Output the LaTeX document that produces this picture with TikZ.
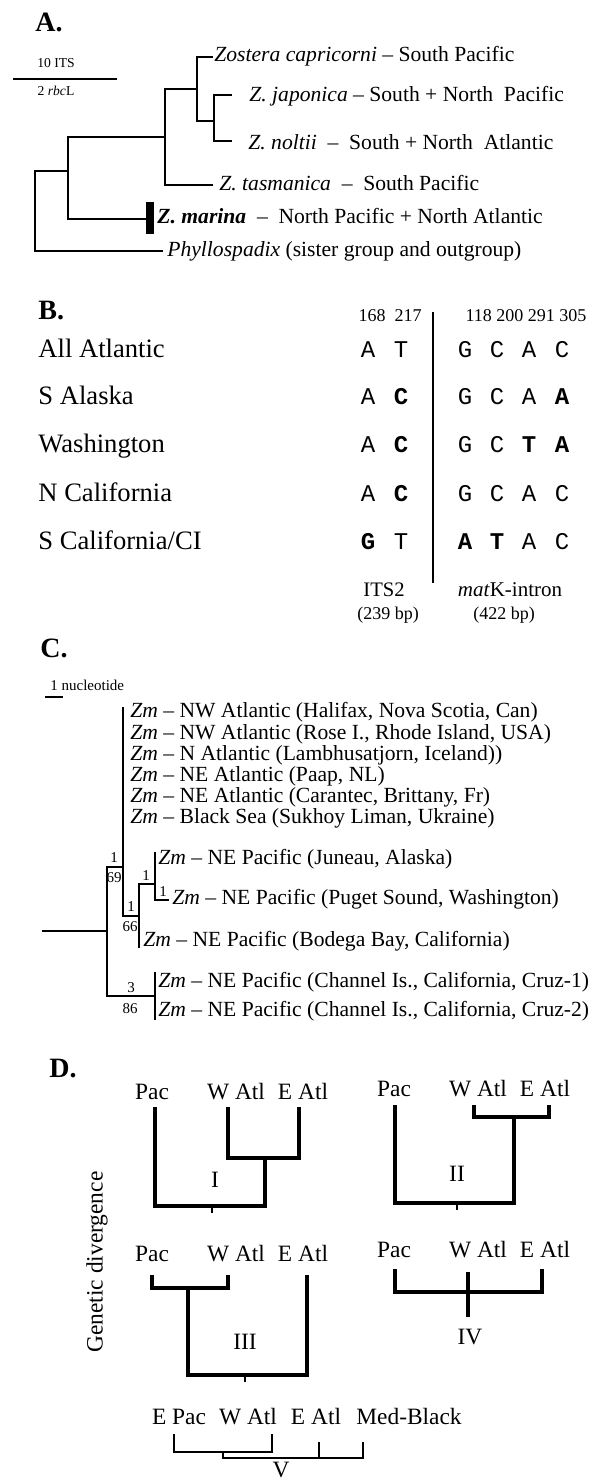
\documentclass[tikz,border=0pt]{standalone}
\usepackage{fontspec}
\setmainfont{Liberation Serif}
\setmonofont{Liberation Mono}
\usetikzlibrary{positioning}

\tikzset{
  branch/.style={line width=0.7pt},
  bar/.style={line width=2.2pt},
  stub/.style={line width=1.2pt},
  paneltitle/.style={anchor=base west,inner sep=0pt,font=\fontsize{14}{16}\selectfont\bfseries},
  taxon/.style={anchor=mid west,inner sep=0pt,font=\fontsize{10.8}{12}\selectfont},
  small/.style={inner sep=0pt,font=\fontsize{6.8}{8}\selectfont},
  rowlab/.style={anchor=mid west,inner sep=0pt,font=\fontsize{13.3}{15}\selectfont},
  posnum/.style={anchor=mid,inner sep=0pt,font=\fontsize{9}{10}\selectfont},
  base/.style={anchor=mid,inner sep=0pt,font=\fontsize{12}{14}\selectfont\ttfamily},
  support/.style={anchor=mid,inner sep=0pt,font=\fontsize{7.5}{8}\selectfont},
  clade/.style={anchor=mid,inner sep=0pt,font=\fontsize{11.7}{13}\selectfont},
}

\begin{document}
\begin{tikzpicture}[x=0.5pt,y=-0.5pt]
\useasboundingbox (0,0) rectangle (599,1483);

%---------------------------------
% A. ARBOL DE ZOSTERA
%---------------------------------
\node[paneltitle] (tA) at (35,32) {A.};

% escala
\node[small] (its) at (56,63) {10 ITS};
\draw[branch] (13,79) -- (117,79);
\node[small] (rbcl) at (56,91) {2 \textit{rbc}L};

% ramas
\coordinate (nA1) at (35,171);
\coordinate (nA2) at (68,137);
\coordinate (nA3) at (165,89);
\coordinate (nA4) at (197,121);
\draw[branch] (163,251) -| (nA1) -- (68,171);
\draw[branch] (146,219) -| (nA2) -- (165,137);
\draw[branch] (213,185) -| (nA3) -- (197,89);
\draw[branch] (213,57) -| (nA4) -- (214,121);
\draw[branch] (232,95) -| (214,141) -- (232,141);
\fill (146,202) rectangle (154,234);

% etiquetas
\node[taxon] (capri) at (214,57) {\textit{Zostera capricorni} -- South Pacific};
\node[taxon] (japo) at (249,97) {\textit{Z. japonica} -- South + North~ Pacific};
\node[taxon] (nolt) at (248,145) {\textit{Z. noltii}~ -- ~South + North~ Atlantic};
\node[taxon] (tasm) at (219,186) {\textit{Z. tasmanica}~ -- ~South Pacific};
\node[taxon] (mari) at (157,219) {\textbf{\textit{Z. marina}}~ -- ~North Pacific + North Atlantic};
\node[taxon] (phyl) at (167,252) {\textit{Phyllospadix} (sister group and outgroup)};

%---------------------------------
% B. SITIOS VARIABLES
%---------------------------------
\node[paneltitle] (tB) at (38,319) {B.};

\node[posnum] (h1) at (390,317) {168~ 217};
\node[posnum] (h2) at (526,317) {118 200 291 305};
\draw[branch] (433,312) -- (433,583);

\node[rowlab] (r1) at (38,353) {All Atlantic};
\node[rowlab] (r2) at (38,400) {S Alaska};
\node[rowlab] (r3) at (38,448) {Washington};
\node[rowlab] (r4) at (38,497) {N California};
\node[rowlab] (r5) at (38,545) {S California/CI};

\foreach \x/\s [count=\i] in {368/A,401/T,465/G,497/C,529/A,562/C}
  \node[base] (s1\i) at (\x,353) {\s};
\foreach \x/\s [count=\i] in {368/A,401/\textbf{C},465/G,497/C,529/A,562/\textbf{A}}
  \node[base] (s2\i) at (\x,400) {\s};
\foreach \x/\s [count=\i] in {368/A,401/\textbf{C},465/G,497/C,529/\textbf{T},562/\textbf{A}}
  \node[base] (s3\i) at (\x,448) {\s};
\foreach \x/\s [count=\i] in {368/A,401/\textbf{C},465/G,497/C,529/A,562/C}
  \node[base] (s4\i) at (\x,497) {\s};
\foreach \x/\s [count=\i] in {368/\textbf{G},401/T,465/\textbf{A},497/\textbf{T},529/A,562/C}
  \node[base] (s5\i) at (\x,545) {\s};

\node[anchor=mid,inner sep=0pt,font=\fontsize{10.3}{12}\selectfont] (its2) at (384,592) {ITS2};
\node[posnum] (its2bp) at (388,615) {(239 bp)};
\node[anchor=mid,inner sep=0pt,font=\fontsize{10.5}{12}\selectfont] (matk) at (510,592) {\textit{mat}K-intron};
\node[posnum] (matkbp) at (504,615) {(422 bp)};

%---------------------------------
% C. HAPLOTIPOS DE ZOSTERA MARINA
%---------------------------------
\node[paneltitle] (tC) at (40,657) {C.};

% escala
\node[small,anchor=base west,font=\fontsize{7.5}{8}\selectfont] (nucl) at (50,690) {1 nucleotide};
\draw[branch] (45,697) -- (63,697);

% ramas
\draw[branch] (42,931) -- (107,931);
\draw[branch] (123,867) -| (107,996) -- (155,996);
\draw[branch] (123,707) -- (123,916) -- (139,916);
\draw[branch] (155,884) -| (139,948);
\draw[branch] (155,852) -- (155,900) -- (169,900);
\draw[branch] (155,972) -- (155,1020);

% etiquetas
\node[taxon] (c1) at (130,713) {\textit{Zm} -- NW Atlantic (Halifax, Nova Scotia, Can)};
\node[taxon] (c2) at (130,735) {\textit{Zm} -- NW Atlantic (Rose I., Rhode Island, USA)};
\node[taxon] (c3) at (130,756) {\textit{Zm} -- N Atlantic (Lambhusatjorn, Iceland))};
\node[taxon] (c4) at (130,777) {\textit{Zm} -- NE Atlantic (Paap, NL)};
\node[taxon] (c5) at (130,798) {\textit{Zm} -- NE Atlantic (Carantec, Brittany, Fr)};
\node[taxon] (c6) at (130,819) {\textit{Zm} -- Black Sea (Sukhoy Liman, Ukraine)};
\node[taxon] (c7) at (158,860) {\textit{Zm} -- NE Pacific (Juneau, Alaska)};
\node[taxon] (c8) at (172,900) {\textit{Zm} -- NE Pacific (Puget Sound, Washington)};
\node[taxon] (c9) at (143,942) {\textit{Zm} -- NE Pacific (Bodega Bay, California)};
\node[taxon] (c10) at (158,983) {\textit{Zm} -- NE Pacific (Channel Is., California, Cruz-1)};
\node[taxon] (c11) at (158,1012) {\textit{Zm} -- NE Pacific (Channel Is., California, Cruz-2)};

% valores de soporte
\node[support] (b1) at (114,858) {1};
\node[support] (b2) at (114,878) {69};
\node[support] (b3) at (146,876) {1};
\node[support] (b4) at (163,892) {1};
\node[support] (b5) at (131,907) {1};
\node[support] (b6) at (130,927) {66};
\node[support] (b7) at (131,988) {3};
\node[support] (b8) at (130,1009) {86};

%---------------------------------
% D. ESCENARIOS
%---------------------------------
\node[paneltitle] (tD) at (49,1077) {D.};
\node[clade,rotate=90] (gd) at (98,1262) {Genetic divergence};

% I
\node[clade] (p1) at (152,1095) {Pac};
\node[clade] (w1) at (236,1095) {W Atl};
\node[clade] (e1) at (303,1095) {E Atl};
\draw[bar] (228,1107) |- (299,1158) -- (299,1107);
\draw[bar] (155,1107) |- (265,1206) -- (265,1158);
\draw[stub] (212,1206) -- (212,1213);
\node[clade] (n1) at (215,1183) {I};

% II
\node[clade] (p2) at (394,1092) {Pac};
\node[clade] (w2) at (478,1092) {W Atl};
\node[clade] (e2) at (545,1092) {E Atl};
\draw[bar] (474,1105) |- (549,1117) -- (549,1105);
\draw[bar] (395,1105) |- (514,1203) -- (514,1117);
\draw[stub] (457,1203) -- (457,1210);
\node[clade] (n2) at (457,1177) {II};

% III
\node[clade] (p3) at (152,1257) {Pac};
\node[clade] (w3) at (236,1257) {W Atl};
\node[clade] (e3) at (303,1257) {E Atl};
\draw[bar] (152,1275) |- (228,1288) -- (228,1275);
\draw[bar] (188,1288) |- (307,1375) -- (307,1275);
\draw[stub] (245,1375) -- (245,1382);
\node[clade] (n3) at (245,1345) {III};

% IV
\node[clade] (p4) at (394,1253) {Pac};
\node[clade] (w4) at (478,1253) {W Atl};
\node[clade] (e4) at (545,1253) {E Atl};
\draw[bar] (395,1269) |- (542,1292) -- (542,1269);
\draw[bar] (468,1272) -- (468,1317);
\node[clade] (n4) at (470,1340) {IV};

% V
\node[clade] (p5) at (179,1420) {E Pac};
\node[clade] (w5) at (248,1420) {W Atl};
\node[clade] (e5) at (316,1420) {E Atl};
\node[clade] (m5) at (409,1420) {Med-Black};
\draw[line width=1pt] (174,1434) |- (272,1452) -- (272,1434);
\draw[line width=1pt] (223,1452) |- (363,1458) -- (363,1442);
\draw[line width=1pt] (319,1442) -- (319,1458);
\node[clade] (n5) at (281,1473) {V};

\end{tikzpicture}
\end{document}
